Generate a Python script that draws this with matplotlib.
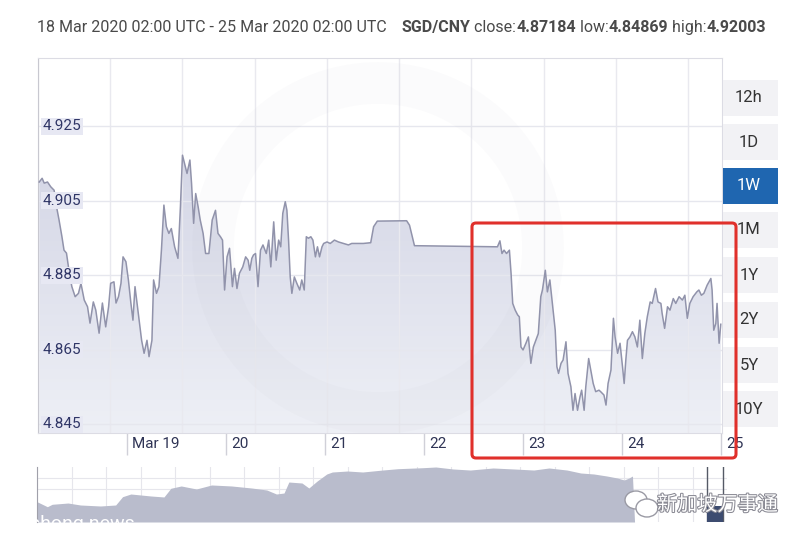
import numpy as np
import matplotlib
matplotlib.use("Agg")
import matplotlib.pyplot as plt
from matplotlib.patches import FancyBboxPatch, Rectangle, Circle, Ellipse
from matplotlib.transforms import IdentityTransform, blended_transform_factory, ScaledTranslation
import matplotlib.patheffects as pe

# hours since 18 Mar 2020 02:00 UTC, SGD/CNY rate
hours = [0.8, 1.5, 2.0, 2.8, 3.6, 4.4, 5.0, 5.6, 6.3, 6.8, 7.4, 8.1, 8.7, 9.5, 10.3,
         10.9, 11.7, 12.5, 13.1, 13.9, 14.5, 15.3, 16.1, 16.9, 17.6, 18.1, 18.9, 19.4,
         20.0, 20.6, 21.1, 21.8, 22.4, 23.0, 23.5, 24.0, 24.6, 25.2, 25.6, 26.2, 26.9,
         27.4, 28.1, 28.5, 29.2, 29.8, 30.4, 31.0, 31.6, 32.2, 32.8, 33.6, 34.4, 35.0,
         35.5, 36.0, 36.6, 37.3, 37.7, 38.2, 38.7, 39.3, 39.8, 40.5, 41.1, 41.9, 42.7,
         43.5, 44.1, 44.7, 45.2, 45.7, 46.3, 46.9, 47.6, 48.1, 48.7, 49.3, 50.1, 50.8,
         51.4, 51.8, 52.3, 52.7, 53.2, 53.8, 54.4, 55.0, 55.8, 56.4, 56.9, 57.6, 58.2,
         58.8, 59.3, 59.8, 60.4, 60.8, 61.2, 61.6, 62.0, 62.6, 63.2, 63.9, 64.4, 65.0,
         65.5, 66.0, 66.6, 67.1, 67.7, 68.2, 68.7, 69.3, 69.7, 70.5, 71.3, 72.3, 73.3,
         74.5, 75.7, 76.5, 77.7, 79.3, 81.1, 81.8, 82.7, 89.8, 90.5, 91.7, 111.8, 112.4,
         112.9, 113.4, 114.0, 114.7, 115.1, 115.5, 116.1, 116.7, 117.1, 117.5, 118.0,
         118.7, 119.3, 119.9, 120.5, 121.1, 121.7, 122.3, 122.7, 123.4, 123.9, 124.5,
         125.1, 125.8, 126.2, 126.6, 127.2, 127.7, 128.4, 128.9, 129.6, 130.1, 130.6,
         131.2, 131.8, 132.2, 132.8, 133.2, 133.9, 134.4, 135.0, 135.6, 136.4, 136.8,
         137.6, 138.1, 138.6, 139.3, 139.9, 140.3, 140.9, 141.5, 142.1, 142.5, 142.9,
         143.3, 143.9, 144.5, 145.1, 145.7, 146.3, 146.9, 147.5, 148.1, 148.8, 149.3,
         150.1, 150.7, 151.4, 151.7, 152.3, 153.0, 153.6, 154.4, 155.0, 155.8, 156.6,
         157.2, 157.8, 158.4, 159.2, 160.1, 160.6, 161.2, 161.8, 162.6, 163.5, 163.8,
         164.2, 164.7, 165.0, 165.5, 165.9]
rates = [4.9100, 4.9110, 4.9097, 4.9100, 4.9087, 4.9078, 4.9033, 4.8998, 4.8953, 4.8917,
         4.8909, 4.8855, 4.8819, 4.8792, 4.8801, 4.8828, 4.8783, 4.8765, 4.8721, 4.8778,
         4.8756, 4.8694, 4.8775, 4.8711, 4.8765, 4.8828, 4.8832, 4.8775, 4.8792, 4.8828,
         4.8899, 4.8886, 4.8837, 4.8775, 4.8729, 4.8819, 4.8765, 4.8711, 4.8675, 4.8640,
         4.8675, 4.8631, 4.8675, 4.8837, 4.8801, 4.8819, 4.8917, 4.9038, 4.8980, 4.8962,
         4.8975, 4.8926, 4.8895, 4.9033, 4.9172, 4.9150, 4.9123, 4.9159, 4.9096, 4.8989,
         4.9069, 4.9033, 4.8998, 4.8962, 4.8908, 4.8908, 4.8998, 4.9024, 4.8962, 4.8953,
         4.8944, 4.8810, 4.8899, 4.8922, 4.8819, 4.8868, 4.8814, 4.8855, 4.8872, 4.8899,
         4.8890, 4.8863, 4.8895, 4.8904, 4.8908, 4.8819, 4.8917, 4.8931, 4.8908, 4.8944,
         4.8872, 4.8993, 4.8890, 4.8944, 4.8926, 4.9016, 4.9047, 4.9024, 4.8944, 4.8845,
         4.8801, 4.8845, 4.8828, 4.8810, 4.8837, 4.8810, 4.8953, 4.8949, 4.8953, 4.8944,
         4.8899, 4.8926, 4.8899, 4.8926, 4.8935, 4.8939, 4.8935, 4.8944, 4.8939, 4.8935,
         4.8931, 4.8935, 4.8935, 4.8935, 4.8937, 4.8980, 4.8995, 4.8996, 4.8984, 4.8929,
         4.8926, 4.8942, 4.8908, 4.8917, 4.8908, 4.8917, 4.8855, 4.8774, 4.8756, 4.8743,
         4.8738, 4.8657, 4.8649, 4.8667, 4.8684, 4.8613, 4.8657, 4.8675, 4.8693, 4.8792,
         4.8810, 4.8863, 4.8805, 4.8837, 4.8774, 4.8702, 4.8604, 4.8586, 4.8613, 4.8622,
         4.8671, 4.8586, 4.8550, 4.8487, 4.8532, 4.8487, 4.8523, 4.8541, 4.8487, 4.8550,
         4.8626, 4.8595, 4.8559, 4.8537, 4.8541, 4.8537, 4.8528, 4.8501, 4.8559, 4.8595,
         4.8734, 4.8684, 4.8640, 4.8667, 4.8604, 4.8559, 4.8622, 4.8675, 4.8684, 4.8698,
         4.8684, 4.8657, 4.8729, 4.8626, 4.8693, 4.8738, 4.8778, 4.8774, 4.8814, 4.8778,
         4.8774, 4.8747, 4.8707, 4.8765, 4.8756, 4.8787, 4.8774, 4.8792, 4.8783, 4.8796,
         4.8734, 4.8774, 4.8792, 4.8805, 4.8810, 4.8796, 4.8801, 4.8823, 4.8841, 4.8810,
         4.8702, 4.8720, 4.8774, 4.8667, 4.8718]

tick_hours = [22, 46, 70, 94, 118, 142, 166]
tick_labels = ["Mar 19", "20", "21", "22", "23", "24", "25"]
y_ticks = [4.925, 4.905, 4.885, 4.865, 4.845]

# navigator (longer range overview), position 0-100 and relative level 0-100
nav_pos = [0, 1.5, 2.2, 4.5, 6.3, 9.2, 11.4, 12.4, 13.6, 16.5, 18.4, 19.4, 20.9, 23.1,
           25.3, 28.2, 31.1, 33.3, 34.7, 35.8, 36.5, 38.4, 39.4, 40.6, 42.0, 42.8, 45.0,
           47.2, 50.1, 52.3, 55.9, 57.8, 60.3, 62.8, 66.1, 69.1, 72.0, 74.2, 76.8, 78.8,
           80.7, 82.6, 84.1, 85.1, 85.8, 86.3, 86.6]
nav_level = [36.9, 27.8, 32.2, 34.5, 30.9, 29.1, 30.9, 46.0, 50.9, 47.3, 45.5, 61.3, 65.5,
             60.0, 67.3, 65.5, 61.8, 58.2, 50.9, 52.7, 72.7, 70.9, 61.8, 74.5, 87.3, 90.9,
             92.7, 90.9, 94.5, 96.9, 98.7, 100, 96.4, 94.5, 98.2, 96.4, 94.5, 98.2, 94.5,
             89.1, 87.3, 83.6, 80.0, 76.4, 80.0, 83.6, 0]

buttons = ["12h", "1D", "1W", "1M", "1Y", "2Y", "5Y", "10Y"]
active_button = "1W"

plt.rcParams["font.family"] = ["Roboto", "DejaVu Sans"]

W, H = 800, 537
fig = plt.figure(figsize=(W / 100, H / 100), dpi=100)
fig.patch.set_facecolor("white")


def fx(px):
    return px / W


def fy(py):
    return 1 - py / H


# main chart
ax = fig.add_axes([fx(38), fy(433), fx(722) - fx(38), fy(58) - fy(433)])
ax.set_facecolor("white")

# gradient fill under the line
poly = ax.fill_between(hours, rates, 4.8426, facecolor="none", edgecolor="none")
grad = np.linspace(0, 1, 256).reshape(-1, 1)
cmap = matplotlib.colors.LinearSegmentedColormap.from_list(
    "fill", ["#eef0f6", "#d3d5e5"])
img = ax.imshow(grad, cmap=cmap, aspect="auto", origin="lower",
                extent=[0.5, 166.2, 4.8426, 4.9200], zorder=1)
img.set_clip_path(poly.get_paths()[0], transform=ax.transData)
ax.set_xlim(0.5, 166.2)
ax.set_ylim(4.8426, 4.9433)

ax.plot(hours, rates, color="#9193ab", linewidth=1.1, zorder=3)

# grid
for gx in np.arange(0.5, 166, 17.5):
    ax.axvline(gx, color="#e9e9ef", linewidth=1, zorder=2)
for gy in y_ticks:
    ax.axhline(gy, color="#e6e7ee", linewidth=1, zorder=2)

# faint watermark ring
ring = Circle((378, H - 248), 165, transform=IdentityTransform(), fill=False,
              edgecolor=(0.6, 0.6, 0.68, 0.035), linewidth=30, zorder=2.5)
ax.add_artist(ring)

ytrans = blended_transform_factory(ax.transAxes, ax.transData)
for v in y_ticks:
    ax.text(0.007, v, f"{v:.3f}", transform=ytrans, va="center", ha="left",
            fontsize=11, color="#2f3566", zorder=5,
            bbox=dict(boxstyle="square,pad=0.1", facecolor="#e7e8f3", edgecolor="none"))

ax.set_yticks([])
ax.set_xticks(tick_hours)
ax.set_xticklabels([])
ax.tick_params(axis="x", direction="out", length=16, width=1, color="#d0d0d8")
xtrans = blended_transform_factory(ax.transData, ax.transAxes) + \
    ScaledTranslation(5 / 100, 0, fig.dpi_scale_trans)
for h, lab in zip(tick_hours, tick_labels):
    ax.text(h, -0.012, lab, transform=xtrans, ha="left", va="top",
            fontsize=11, color="#2f3455", clip_on=False)

for side in ["top", "right", "bottom", "left"]:
    ax.spines[side].set_color("#dcdce4")
ax.spines["left"].set_color("#c8c8d0")

# period buttons
centers = [98, 142, 186, 230, 275, 320, 365, 409]
for lab, cy in zip(buttons, centers):
    active = lab == active_button
    fig.add_artist(Rectangle((723, H - cy - 18), 55, 36, transform=IdentityTransform(),
                             facecolor="#1f66b0" if active else "#f2f2f5",
                             edgecolor="none", zorder=4))
    fig.text(fx(749), fy(cy), lab, ha="center", va="center", fontsize=12,
             color="white" if active else "#333333", zorder=5)

# red highlight box
fig.add_artist(FancyBboxPatch((472, H - 458), 264, 235, transform=IdentityTransform(),
                              boxstyle="round,pad=0,rounding_size=4", fill=False,
                              edgecolor="#e0302b", linewidth=2.2, zorder=10))

# navigator
nav = fig.add_axes([fx(37), fy(522), fx(727) - fx(37), fy(467) - fy(522)])
nav.set_xlim(0, 100)
nav.set_ylim(0, 100)
for gx in np.arange(0, 100, 5.0):
    nav.axvline(gx, color="#e6e6ec", linewidth=0.8, zorder=0)
for gy in [80, 60]:
    nav.axhline(gy, color="#e6e6ec", linewidth=0.8, zorder=0)
nav.fill_between(nav_pos, nav_level, 0, color="#b9bccc", linewidth=0, zorder=1)
nav.set_xticks([])
nav.set_yticks([])
for side in ["top", "right", "bottom"]:
    nav.spines[side].set_visible(False)
nav.spines["left"].set_color("#a0a0aa")
for hx in [97.1, 99.4]:
    nav.axvline(hx, color="#555a66", linewidth=1, zorder=3)
nav.add_patch(Rectangle((97.1, 0), 2.3, 30, facecolor="#3d4c70", edgecolor="none", zorder=3))

fig.text(fx(30), fy(515), "shong news", ha="left", va="top", fontsize=14,
         color="white", zorder=6)

# WeChat-style watermark
for cx, cy, ww, hh in [(636, 500, 22, 18), (647, 508, 22, 18)]:
    fig.add_artist(Ellipse((cx, H - cy), ww, hh, transform=IdentityTransform(),
                           facecolor="white", edgecolor="#9a9aa4", linewidth=1, zorder=7))
fig.text(fx(657), fy(505), "新加坡万事通", ha="left", va="center", fontsize=14.5,
         color="white", family=["Noto Sans CJK SC", "DejaVu Sans"], zorder=8,
         path_effects=[pe.withStroke(linewidth=1.5, foreground="#8a8a94")])

# title line
renderer = fig.canvas.get_renderer()
parts = [("18 Mar 2020 02:00 UTC - 25 Mar 2020 02:00 UTC", "normal", 0),
         ("SGD/CNY", "bold", 15), (" close:", "normal", 0), ("4.87184", "bold", 0),
         (" low:", "normal", 0), ("4.84869", "bold", 0), (" high:", "normal", 0),
         ("4.92003", "bold", 0)]
xpos = 37
for txt, weight, gap in parts:
    xpos += gap
    t = fig.text(fx(xpos), fy(28), txt, ha="left", va="center", fontsize=11.5,
                 fontweight=weight, color="#4a4a4a")
    bb = t.get_window_extent(renderer)
    xpos += bb.width

fig.savefig("out.png", dpi=100, facecolor="white")
